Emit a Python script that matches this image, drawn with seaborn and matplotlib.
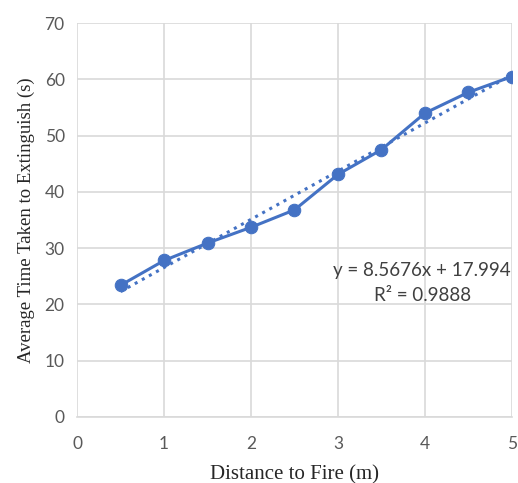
import seaborn as sns
import matplotlib.pyplot as plt
import numpy as np
import pandas as pd

distance = [0.5, 1.0, 1.5, 2.0, 2.5, 3.0, 3.5, 4.0, 4.5, 5.0]
avg_time = [23.4, 27.8, 30.9, 33.7, 36.8, 43.1, 47.5, 54.0, 57.7, 60.5]
eq_text = "y = 8.5676x + 17.994"
r2_text = "R² = 0.9888"

blue = "#4472C4"
grid = "#D9D9D9"

df = pd.DataFrame({"distance": distance, "time": avg_time})

sns.set_style("white")
plt.rcParams['font.family'] = ['Lato', 'DejaVu Sans']

fig = plt.figure(figsize=(5.18, 4.83), dpi=100)
ax = fig.add_axes([0.149, 0.137, 0.839, 0.815])

# dotted linear trendline
sns.regplot(data=df, x="distance", y="time", scatter=False, ci=None,
            truncate=True, ax=ax,
            line_kws={"color": blue, "linestyle": ":", "linewidth": 2.2})
sns.lineplot(data=df, x="distance", y="time", marker="o", markersize=9,
             color=blue, linewidth=2.2, markeredgecolor=blue, ax=ax)

ax.set(xlim=(0, 5), ylim=(0, 70))
ax.set_xticks(np.arange(0, 6, 1))
ax.set_yticks(np.arange(0, 80, 10))
ax.grid(True, color=grid, linewidth=1.2)
ax.set_axisbelow(True)
for s in ax.spines.values():
    s.set_visible(False)
ax.spines['bottom'].set_visible(True)
ax.spines['bottom'].set_color(grid)
ax.spines['bottom'].set_linewidth(1.2)

ax.tick_params(axis='x', length=0, labelsize=12.5, labelcolor="#595959", pad=14)
ax.tick_params(axis='y', length=0, labelsize=12.5, labelcolor="#595959", pad=9)

ax.set_xlabel("Distance to Fire (m)", family="Liberation Serif", fontsize=15, color="#262626", labelpad=9)
ax.set_ylabel("Average Time Taken to Extinguish (s)", family="Liberation Serif", fontsize=13.5, color="#262626", labelpad=7)

ax.text(3.97, 26.1, eq_text, ha="center", va="center", fontsize=13.5, color="#404040")
ax.text(3.97, 21.5, r2_text, ha="center", va="center", fontsize=13.5, color="#404040")

plt.savefig("out.png", dpi=100)
